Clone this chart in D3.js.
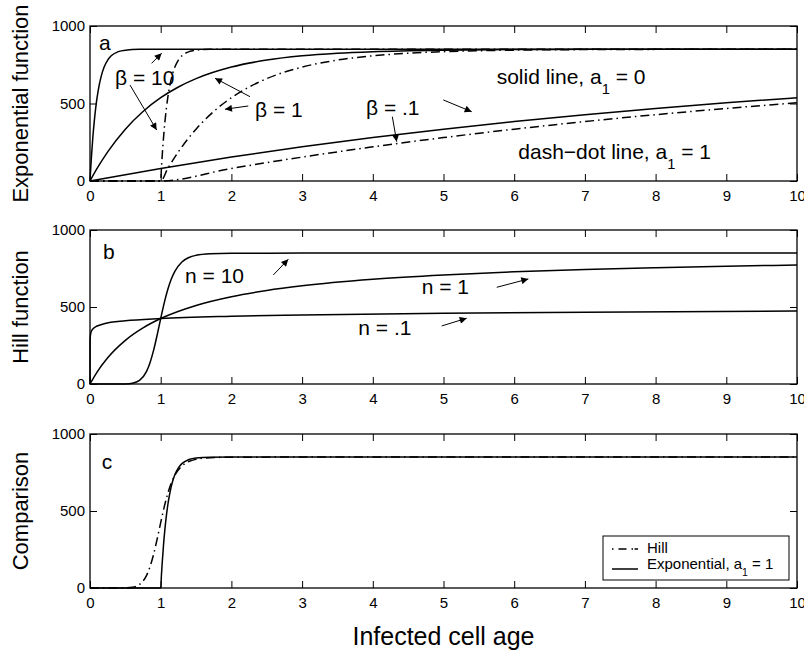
<!DOCTYPE html>
<html>
<head>
<meta charset="utf-8">
<script src="https://cdn.jsdelivr.net/npm/d3@7"></script>
<style>
  body { margin: 0; background: #fff; }
  svg { font-family: "Liberation Sans", Arial, Helvetica, sans-serif; }
</style>
</head>
<body>
<div id="chart"></div>
<script>
// Values (production vs. infected cell age)

// panel a, beta = 10 : solid a1 = 0, dash-dot a1 = 1
const ageB10 = [0, 0.01, 0.02, 0.04, 0.06, 0.08, 0.1, 0.13, 0.16, 0.2, 0.25, 0.3, 0.4, 0.5, 0.7, 1, 10];
const expB10 = [0, 80.9, 154.1, 280.2, 383.5, 468.1, 537.3, 618.4, 678.4, 735.0, 780.2, 807.7, 834.4, 844.3, 849.2, 850, 850];
const ageB10Shift = [0, 1, 1.01, 1.02, 1.04, 1.06, 1.08, 1.1, 1.13, 1.16, 1.2, 1.25, 1.3, 1.4, 1.5, 1.7, 2, 10];
const expB10Shift = [0, 0, 80.9, 154.1, 280.2, 383.5, 468.1, 537.3, 618.4, 678.4, 735.0, 780.2, 807.7, 834.4, 844.3, 849.2, 850, 850];

// panel a, beta = 1
const ageB1 = [0, 0.1, 0.25, 0.5, 0.75, 1, 1.25, 1.5, 2, 2.5, 3, 3.5, 4, 5, 6, 7, 8, 10];
const expB1 = [0, 80.9, 188.0, 334.5, 448.5, 537.3, 606.5, 660.3, 735.0, 780.2, 807.7, 824.3, 834.4, 844.3, 847.9, 849.2, 849.7, 850];
const ageB1Shift = [0, 1, 1.1, 1.25, 1.5, 1.75, 2, 2.25, 2.5, 3, 3.5, 4, 4.5, 5, 6, 7, 8, 9, 10];
const expB1Shift = [0, 0, 80.9, 188.0, 334.5, 448.5, 537.3, 606.5, 660.3, 735.0, 780.2, 807.7, 824.3, 834.4, 844.3, 847.9, 849.2, 849.7, 849.9];

// panel a, beta = .1
const ageB01 = [0, 1, 2, 3, 4, 5, 6, 7, 8, 9, 10];
const expB01 = [0, 80.9, 154.1, 220.3, 280.2, 334.5, 383.5, 427.9, 468.1, 504.4, 537.3];
const expB01Shift = [0, 0, 80.9, 154.1, 220.3, 280.2, 334.5, 383.5, 427.9, 468.1, 504.4];

// panel b, Hill function
const ageN10 = [0, 0.4, 0.5, 0.6, 0.7, 0.8, 0.85, 0.9, 0.95, 1, 1.05, 1.1, 1.15, 1.2, 1.3, 1.4, 1.5, 1.7, 2, 3, 10];
const hillN10 = [0, 0.1, 0.8, 5.1, 23.4, 82.4, 139.8, 219.8, 318.3, 425, 526.7, 613.5, 681.5, 731.8, 792.5, 821.6, 835.5, 845.8, 849.2, 850, 850];
const ageN1 = [0, 0.1, 0.25, 0.5, 0.75, 1, 1.5, 2, 2.5, 3, 4, 5, 6, 7, 8, 9, 10];
const hillN1 = [0, 77.3, 170, 283.3, 364.3, 425, 510, 566.7, 607.1, 637.5, 680, 708.3, 728.6, 743.8, 755.6, 765, 772.7];
const ageN01 = [0, 0.001, 0.01, 0.03, 0.05, 0.1, 0.2, 0.5, 1, 2, 3, 5, 7, 10];
const hillN01 = [0, 283.7, 329.0, 351.2, 361.8, 376.4, 391.2, 410.3, 425, 439.7, 448.3, 459.1, 466.2, 473.7];

// panel c, comparison
const ageHill = [0, 0.4, 0.5, 0.6, 0.7, 0.8, 0.85, 0.9, 0.95, 1, 1.05, 1.1, 1.15, 1.2, 1.3, 1.4, 1.5, 1.7, 2, 3, 10];
const hillCmp = [0, 0.1, 0.8, 5.1, 23.4, 82.4, 139.8, 219.8, 318.3, 425, 526.7, 613.5, 681.5, 731.8, 792.5, 821.6, 835.5, 845.8, 849.2, 850, 850];

const xTicks = [0, 1, 2, 3, 4, 5, 6, 7, 8, 9, 10];
const yTicks = [0, 500, 1000];
const panelLabels = ['Exponential function', 'Hill function', 'Comparison'];

// ---- layout
const width = 804, height = 651;
const left = 90, right = 797;
const panels = [
  { top: 26, bottom: 181 },
  { top: 230, bottom: 384 },
  { top: 434, bottom: 588 }
];

const svg = d3.select('#chart').append('svg')
  .attr('width', width)
  .attr('height', height);

svg.append('defs').append('marker')
  .attr('id', 'head')
  .attr('viewBox', '0 0 10 10')
  .attr('refX', 10).attr('refY', 5)
  .attr('markerWidth', 9).attr('markerHeight', 7)
  .attr('markerUnits', 'userSpaceOnUse')
  .attr('orient', 'auto')
  .append('path').attr('d', 'M0,0L10,5L0,10Z').attr('fill', '#000');

const x = d3.scaleLinear().domain([0, 10]).range([left, right]);
const zip = (xs, ys) => xs.map((v, i) => [v, ys[i]]);
const dashDot = '9,4,1.5,4';

function addText(g, px, py, parts, size) {
  const t = g.append('text').attr('x', px).attr('y', py)
    .attr('font-size', size).attr('fill', '#000');
  parts.forEach(p => {
    if (typeof p === 'string') {
      t.append('tspan').text(p);
    } else {
      t.append('tspan').attr('dy', size * 0.48).attr('font-size', size * 0.7).text(p.sub);
      t.append('tspan').attr('dy', -size * 0.48).text(p.after);
    }
  });
  return t;
}

function drawPanel(i, series, labels, arrows) {
  const p = panels[i];
  const y = d3.scaleLinear().domain([0, 1000]).range([p.bottom, p.top]);
  const g = svg.append('g');
  const line = d3.line().x(d => x(d[0])).y(d => y(d[1])).curve(d3.curveMonotoneX);

  series.forEach(s => {
    g.append('path')
      .attr('d', line(s.pts))
      .attr('fill', 'none')
      .attr('stroke', '#000')
      .attr('stroke-width', 1.5)
      .attr('stroke-dasharray', s.dash ? dashDot : null);
  });

  // inward ticks on all four sides
  const axes = [
    [d3.axisBottom(x), `translate(0,${p.bottom})`, true],
    [d3.axisTop(x), `translate(0,${p.top})`, false]
  ];
  axes.forEach(([ax, tr, lab]) => {
    const a = g.append('g').attr('transform', tr)
      .call(ax.tickValues(xTicks).tickSize(-7).tickPadding(9).tickFormat(lab ? d3.format('d') : ''));
    a.select('.domain').remove();
    a.selectAll('text').attr('font-size', 15).attr('font-family', null);
  });
  const yAxes = [
    [d3.axisLeft(y), `translate(${left},0)`, true],
    [d3.axisRight(y), `translate(${right},0)`, false]
  ];
  yAxes.forEach(([ax, tr, lab]) => {
    const a = g.append('g').attr('transform', tr)
      .call(ax.tickValues(yTicks).tickSize(-7).tickPadding(5).tickFormat(lab ? d3.format('d') : ''));
    a.select('.domain').remove();
    a.selectAll('text').attr('font-size', 15).attr('font-family', null);
  });
  g.selectAll('.tick line').attr('stroke-width', 1);

  g.append('rect')
    .attr('x', left).attr('y', p.top)
    .attr('width', right - left).attr('height', p.bottom - p.top)
    .attr('fill', 'none').attr('stroke', '#000').attr('stroke-width', 1.3);

  g.append('text')
    .attr('transform', `translate(28,${(p.top + p.bottom) / 2}) rotate(-90)`)
    .attr('text-anchor', 'middle')
    .attr('font-size', 22)
    .text(panelLabels[i]);

  labels.forEach(l => addText(g, x(l.x), y(l.y), l.parts, 21));

  arrows.forEach(a => {
    g.append('line')
      .attr('x1', x(a[0])).attr('y1', y(a[1]))
      .attr('x2', x(a[2])).attr('y2', y(a[3]))
      .attr('stroke', '#000').attr('stroke-width', 1)
      .attr('marker-end', 'url(#head)');
  });
  return { g, y };
}

// panel a
drawPanel(0, [
  { pts: zip(ageB10, expB10) },
  { pts: zip(ageB10Shift, expB10Shift), dash: true },
  { pts: zip(ageB1, expB1) },
  { pts: zip(ageB1Shift, expB1Shift), dash: true },
  { pts: zip(ageB01, expB01) },
  { pts: zip(ageB01, expB01Shift), dash: true }
], [
  { x: 0.127, y: 845, parts: ['a'] },
  { x: 0.354, y: 619, parts: ['\u03B2 = 10'] },
  { x: 2.334, y: 413, parts: ['\u03B2 = 1'] },
  { x: 3.904, y: 426, parts: ['\u03B2 = .1'] },
  { x: 5.752, y: 626, parts: ['solid line, a', { sub: '1', after: ' = 0' }] },
  { x: 6.058, y: 140, parts: ['dash\u2212dot line, a', { sub: '1', after: ' = 1' }] }
], [
  [0.871, 759, 1.013, 824],
  [0.566, 619, 0.943, 329],
  [2.263, 544, 1.768, 663],
  [2.239, 484, 1.909, 463],
  [4.276, 415, 4.338, 254],
  [4.997, 523, 5.399, 447]
]);

// panel b
drawPanel(1, [
  { pts: zip(ageN10, hillN10) },
  { pts: zip(ageN1, hillN1) },
  { pts: zip(ageN01, hillN01) }
], [
  { x: 0.184, y: 810, parts: ['b'] },
  { x: 1.344, y: 654, parts: ['n = 10'] },
  { x: 4.692, y: 582, parts: ['n = 1'] },
  { x: 3.795, y: 318, parts: ['n = .1'] }
], [
  [2.593, 708, 2.805, 810],
  [5.753, 628, 6.2, 682],
  [4.975, 377, 5.328, 427]
]);

// panel c
const pc = drawPanel(2, [
  { pts: zip(ageHill, hillCmp), dash: true },
  { pts: zip(ageB10Shift, expB10Shift) }
], [
  { x: 0.165, y: 775, parts: ['c'] }
], []);

// legend
const lg = pc.g.append('g');
lg.append('rect')
  .attr('x', 603).attr('y', 536).attr('width', 186).attr('height', 44)
  .attr('fill', '#fff').attr('stroke', '#000').attr('stroke-width', 1);
lg.append('line').attr('x1', 612).attr('x2', 638).attr('y1', 549).attr('y2', 549)
  .attr('stroke', '#000').attr('stroke-width', 1.5)
  .attr('stroke-dasharray', '1.5,5,8,5,1.5');
lg.append('line').attr('x1', 612).attr('x2', 638).attr('y1', 569).attr('y2', 569)
  .attr('stroke', '#000').attr('stroke-width', 1.5);
addText(lg, 647, 553, ['Hill'], 15);
addText(lg, 647, 569, ['Exponential, a', { sub: '1', after: ' = 1' }], 15);

// x axis title
svg.append('text')
  .attr('x', (left + right) / 2).attr('y', 645)
  .attr('text-anchor', 'middle')
  .attr('font-size', 25)
  .text('Infected cell age');
</script>
</body>
</html>
